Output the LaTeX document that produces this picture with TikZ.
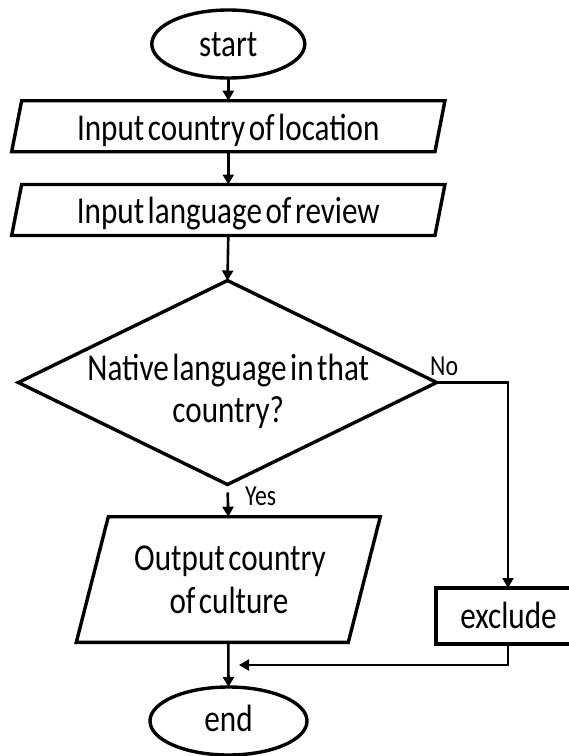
\documentclass[tikz,border=0pt]{standalone}
\usepackage{fontspec}
\setmainfont{Carlito}[FakeStretch=0.82,WordSpace=0.5]
\usetikzlibrary{shapes.geometric,arrows.meta}
\begin{document}
\begin{tikzpicture}[x=1pt,y=-1pt,
  shp/.style={line width=3.4pt},
  holder/.style={inner sep=0pt,outer sep=0pt},
  arr/.style={line width=2.6pt,-{Triangle[width=11pt,length=10pt]}},
  arrthin/.style={line width=2.1pt,-{Triangle[width=11pt,length=10pt]}},
  txt/.style={inner sep=0pt,anchor=base,font=\fontsize{38}{43}\selectfont},
  lbl/.style={inner sep=0pt,anchor=base west,font=\fontsize{29}{32}\selectfont}]
\useasboundingbox (0,0) rectangle (569,756);
\clip (0,0) rectangle (569,756);
% shapes
\node[ellipse,draw,shp,holder,minimum width=153pt,minimum height=68pt] (start) at (228.3,44) {};
\node[holder,minimum width=423.3pt,minimum height=51pt] (in1) at (228.3,126.2) {};
\draw[shp] ([xshift=5pt]in1.north west) -- ([xshift=5pt]in1.north east) -- ([xshift=-5pt]in1.south east) -- ([xshift=-5pt]in1.south west) -- cycle;
\node[holder,minimum width=423.3pt,minimum height=51pt] (in2) at (228.3,210) {};
\draw[shp] ([xshift=5pt]in2.north west) -- ([xshift=5pt]in2.north east) -- ([xshift=-5pt]in2.south east) -- ([xshift=-5pt]in2.south west) -- cycle;
\node[holder,minimum width=418.4pt,minimum height=204pt] (dec) at (227.5,382.5) {};
\draw[shp] (dec.north) -- (dec.east) -- (dec.south) -- (dec.west) -- cycle;
\node[holder,minimum width=272pt,minimum height=125.6pt] (out) at (228.3,579.5) {};
\draw[shp] ([xshift=16pt]out.north west) -- ([xshift=16pt]out.north east) -- ([xshift=-16pt]out.south east) -- ([xshift=-16pt]out.south west) -- cycle;
\node[draw,shp,holder,minimum width=144pt,minimum height=56pt] (excl) at (508,616) {};
\node[ellipse,draw,shp,holder,minimum width=157pt,minimum height=68pt] (end) at (228.5,721) {};
% texts
\node[txt] (tstart) at (228.3,56.7) {start};
\node[txt] (tin1) at (228.3,140) {Input country of location};
\node[txt] (tin2) at (228.3,223) {Input language of review};
\node[txt] (tdec1) at (228.3,380) {Native language in that};
\node[txt] (tdec2) at (228.3,422) {country?};
\node[txt] (tout1) at (230,570) {Output country};
\node[txt] (tout2) at (229,613) {of culture};
\node[txt] (texcl) at (508.5,628.3) {exclude};
\node[txt] (tend) at (228.5,731.7) {end};
\node[lbl] (no) at (430,375) {No};
\node[lbl] (yes) at (245,505) {Yes};
% connectors
\draw[arr] (start.south) -- (in1.north);
\draw[arr] (in1.south) -- (in2.north);
\draw[arr] (in2.south) -- (dec.north);
\draw[arr,shorten <=8pt] (dec.south) -- (out.north);
\draw[arr] (out.south) -- (end.north);
\draw[arrthin] (dec.east) -| (excl.north);
\coordinate (jn) at (239,665);
\draw[arrthin] (excl.south) |- (jn);
\end{tikzpicture}
\end{document}
